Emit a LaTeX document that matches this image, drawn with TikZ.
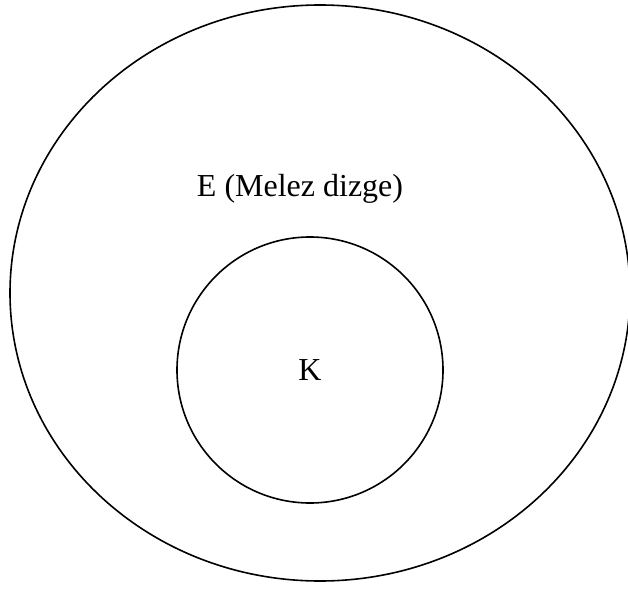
\documentclass[tikz,border=0pt]{standalone}
\usepackage{fontspec}
\setmainfont{Liberation Serif}
\usetikzlibrary{shapes.geometric}
\tikzset{set/.style={draw,line width=1.6pt},
	lbl/.style={font=\fontsize{32}{38}\selectfont}}
\begin{document}
\begin{tikzpicture}[x=1pt,y=-1pt]
		\useasboundingbox (0,0) rectangle (628,588);
		\clip (0,0) rectangle (628,588);
		\node[set,ellipse,minimum width=620pt,minimum height=576pt,inner sep=0pt] (E) at (320,293) {};
		\node[set,circle,minimum size=266pt,inner sep=0pt] (K) at (310,370) {};
		\node[lbl] (Elbl) at (300,189) {E (Melez dizge)};
		\node[lbl] (Klbl) at (K.center) {K};
		%\draw (E) -- (K);
\end{tikzpicture}
\end{document}
